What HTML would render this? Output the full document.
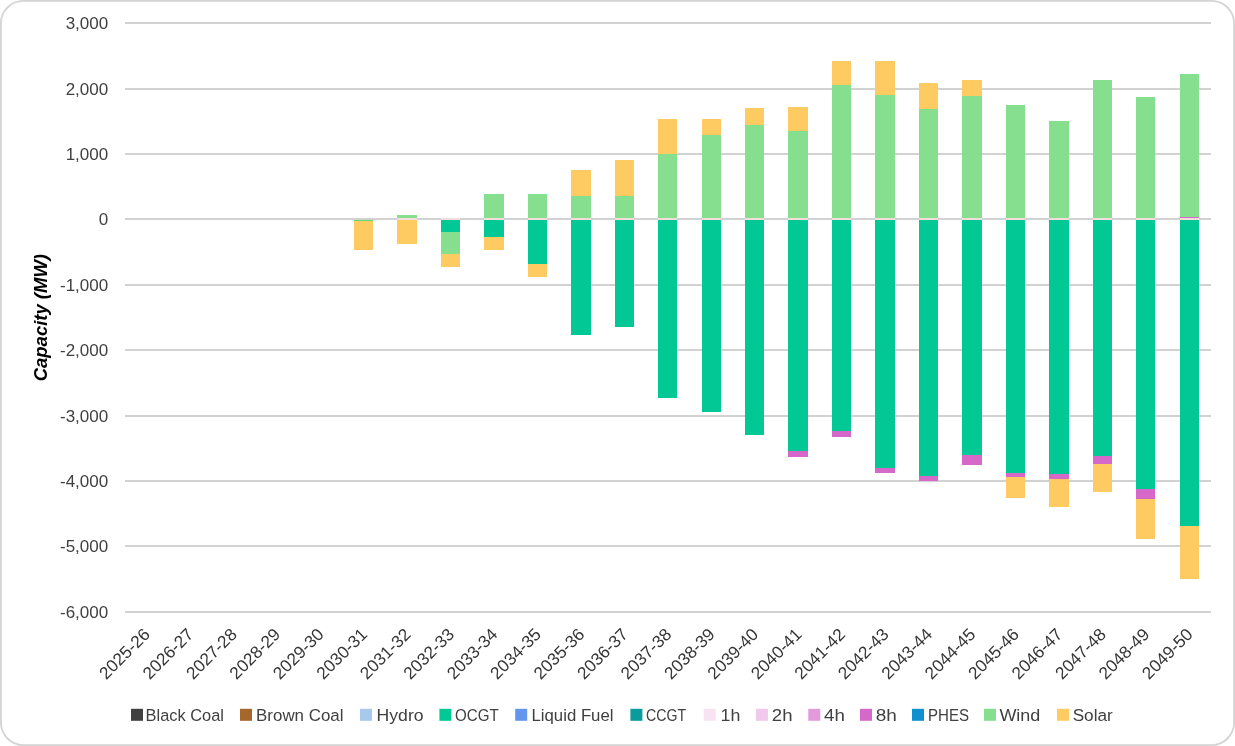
<!DOCTYPE html>
<html lang="en"><head><meta charset="utf-8"><title>Capacity (MW)</title>
<style>html,body{margin:0;padding:0;background:#fff;}svg{display:block;}text{font-family:"Liberation Sans",sans-serif;}</style></head><body>
<svg width="1235" height="746" viewBox="0 0 1235 746">
<rect x="0" y="0" width="1235" height="746" fill="#fff"/>
<rect x="0.9" y="0.9" width="1233.2" height="744.2" rx="22.5" ry="22.5" fill="#fff" stroke="#D4D4D4" stroke-width="1.8"/>
<g fill="#D2D2D2" shape-rendering="crispEdges">
<rect x="125.0" y="22" width="1086.3" height="2"/>
<rect x="125.0" y="88" width="1086.3" height="2"/>
<rect x="125.0" y="153" width="1086.3" height="2"/>
<rect x="125.0" y="218" width="1086.3" height="2"/>
<rect x="125.0" y="284" width="1086.3" height="2"/>
<rect x="125.0" y="349" width="1086.3" height="2"/>
<rect x="125.0" y="415" width="1086.3" height="2"/>
<rect x="125.0" y="480" width="1086.3" height="2"/>
<rect x="125.0" y="545" width="1086.3" height="2"/>
<rect x="125.0" y="611" width="1086.3" height="2"/>
</g>
<g shape-rendering="crispEdges">
<rect x="354.00" y="219.80" width="19" height="1.40" fill="#5FDC70"/>
<rect x="354.00" y="221.00" width="19" height="28.70" fill="#FDCB62"/>
<rect x="397.00" y="214.80" width="20" height="4.20" fill="#86DF8F"/>
<rect x="397.00" y="219.00" width="20" height="24.80" fill="#FDCB62"/>
<rect x="441.00" y="219.00" width="19" height="13.20" fill="#02C896"/>
<rect x="441.00" y="232.20" width="19" height="21.70" fill="#86DF8F"/>
<rect x="441.00" y="253.90" width="19" height="12.90" fill="#FDCB62"/>
<rect x="484.00" y="194.10" width="20" height="24.90" fill="#86DF8F"/>
<rect x="484.00" y="219.00" width="20" height="18.00" fill="#02C896"/>
<rect x="484.00" y="237.00" width="20" height="12.70" fill="#FDCB62"/>
<rect x="528.00" y="194.10" width="19" height="24.90" fill="#86DF8F"/>
<rect x="528.00" y="219.00" width="19" height="45.10" fill="#02C896"/>
<rect x="528.00" y="264.10" width="19" height="12.60" fill="#FDCB62"/>
<rect x="571.00" y="169.90" width="20" height="26.10" fill="#FDCB62"/>
<rect x="571.00" y="196.00" width="20" height="23.00" fill="#86DF8F"/>
<rect x="571.00" y="219.00" width="20" height="115.70" fill="#02C896"/>
<rect x="615.00" y="160.00" width="19" height="36.00" fill="#FDCB62"/>
<rect x="615.00" y="196.00" width="19" height="23.00" fill="#86DF8F"/>
<rect x="615.00" y="219.00" width="19" height="107.50" fill="#02C896"/>
<rect x="658.00" y="119.00" width="19" height="35.00" fill="#FDCB62"/>
<rect x="658.00" y="154.00" width="19" height="65.00" fill="#86DF8F"/>
<rect x="658.00" y="219.00" width="19" height="178.70" fill="#02C896"/>
<rect x="702.00" y="119.00" width="19" height="15.70" fill="#FDCB62"/>
<rect x="702.00" y="134.70" width="19" height="84.30" fill="#86DF8F"/>
<rect x="702.00" y="219.00" width="19" height="193.40" fill="#02C896"/>
<rect x="745.00" y="108.20" width="19" height="16.40" fill="#FDCB62"/>
<rect x="745.00" y="124.60" width="19" height="94.40" fill="#86DF8F"/>
<rect x="745.00" y="219.00" width="19" height="215.60" fill="#02C896"/>
<rect x="788.00" y="107.00" width="20" height="23.70" fill="#FDCB62"/>
<rect x="788.00" y="130.70" width="20" height="88.30" fill="#86DF8F"/>
<rect x="788.00" y="219.00" width="20" height="232.10" fill="#02C896"/>
<rect x="788.00" y="451.10" width="20" height="5.50" fill="#D568C9"/>
<rect x="832.00" y="60.90" width="19" height="24.20" fill="#FDCB62"/>
<rect x="832.00" y="85.10" width="19" height="133.90" fill="#86DF8F"/>
<rect x="832.00" y="219.00" width="19" height="212.20" fill="#02C896"/>
<rect x="832.00" y="431.20" width="19" height="5.50" fill="#D568C9"/>
<rect x="875.00" y="60.90" width="20" height="33.80" fill="#FDCB62"/>
<rect x="875.00" y="94.70" width="20" height="124.30" fill="#86DF8F"/>
<rect x="875.00" y="219.00" width="20" height="249.00" fill="#02C896"/>
<rect x="875.00" y="468.00" width="20" height="4.70" fill="#D568C9"/>
<rect x="919.00" y="83.00" width="19" height="25.80" fill="#FDCB62"/>
<rect x="919.00" y="108.80" width="19" height="110.20" fill="#86DF8F"/>
<rect x="919.00" y="219.00" width="19" height="257.20" fill="#02C896"/>
<rect x="919.00" y="476.20" width="19" height="4.50" fill="#D568C9"/>
<rect x="962.00" y="80.00" width="20" height="15.80" fill="#FDCB62"/>
<rect x="962.00" y="95.80" width="20" height="123.20" fill="#86DF8F"/>
<rect x="962.00" y="219.00" width="20" height="236.00" fill="#02C896"/>
<rect x="962.00" y="455.00" width="20" height="9.50" fill="#D568C9"/>
<rect x="1006.00" y="104.90" width="19" height="114.10" fill="#86DF8F"/>
<rect x="1006.00" y="219.00" width="19" height="253.90" fill="#02C896"/>
<rect x="1006.00" y="472.90" width="19" height="4.30" fill="#D568C9"/>
<rect x="1006.00" y="477.20" width="19" height="20.50" fill="#FDCB62"/>
<rect x="1049.00" y="121.00" width="20" height="98.00" fill="#86DF8F"/>
<rect x="1049.00" y="219.00" width="20" height="255.00" fill="#02C896"/>
<rect x="1049.00" y="474.00" width="20" height="4.80" fill="#D568C9"/>
<rect x="1049.00" y="478.80" width="20" height="28.00" fill="#FDCB62"/>
<rect x="1093.00" y="80.00" width="19" height="139.00" fill="#86DF8F"/>
<rect x="1093.00" y="219.00" width="19" height="237.00" fill="#02C896"/>
<rect x="1093.00" y="456.00" width="19" height="8.00" fill="#D568C9"/>
<rect x="1093.00" y="464.00" width="19" height="27.80" fill="#FDCB62"/>
<rect x="1136.00" y="97.00" width="19" height="122.00" fill="#86DF8F"/>
<rect x="1136.00" y="219.00" width="19" height="270.00" fill="#02C896"/>
<rect x="1136.00" y="489.00" width="19" height="9.90" fill="#D568C9"/>
<rect x="1136.00" y="498.90" width="19" height="39.90" fill="#FDCB62"/>
<rect x="1180.00" y="73.90" width="19" height="143.30" fill="#86DF8F"/>
<rect x="1180.00" y="217.00" width="19" height="1.20" fill="#D568C9"/>
<rect x="1180.00" y="219.00" width="19" height="307.00" fill="#02C896"/>
<rect x="1180.00" y="526.00" width="19" height="52.90" fill="#FDCB62"/>
</g>
<g fill="#F4DCDA">
<rect x="397.00" y="218" width="20" height="2"/>
<rect x="441.00" y="218" width="19" height="2"/>
<rect x="484.00" y="218" width="20" height="2"/>
<rect x="528.00" y="218" width="19" height="2"/>
<rect x="571.00" y="218" width="20" height="2"/>
<rect x="615.00" y="218" width="19" height="2"/>
<rect x="658.00" y="218" width="19" height="2"/>
<rect x="702.00" y="218" width="19" height="2"/>
<rect x="745.00" y="218" width="19" height="2"/>
<rect x="788.00" y="218" width="20" height="2"/>
<rect x="832.00" y="218" width="19" height="2"/>
<rect x="875.00" y="218" width="20" height="2"/>
<rect x="919.00" y="218" width="19" height="2"/>
<rect x="962.00" y="218" width="20" height="2"/>
<rect x="1006.00" y="218" width="19" height="2"/>
<rect x="1049.00" y="218" width="20" height="2"/>
<rect x="1093.00" y="218" width="19" height="2"/>
<rect x="1136.00" y="218" width="19" height="2"/>
<rect x="1180.00" y="218" width="19" height="2"/>
</g>
<g fill="#404040" font-size="17" text-anchor="end">
<text x="108.2" y="28.60">3,000</text>
<text x="108.2" y="94.60">2,000</text>
<text x="108.2" y="159.60">1,000</text>
<text x="108.2" y="224.60">0</text>
<text x="108.2" y="290.60">-1,000</text>
<text x="108.2" y="355.60">-2,000</text>
<text x="108.2" y="421.60">-3,000</text>
<text x="108.2" y="486.60">-4,000</text>
<text x="108.2" y="551.60">-5,000</text>
<text x="108.2" y="617.60">-6,000</text>
</g>
<g fill="#363636" font-size="17.2" text-anchor="end">
<text transform="translate(151.03,635.4) rotate(-45)" textLength="63.3" lengthAdjust="spacingAndGlyphs">2025-26</text>
<text transform="translate(194.48,635.4) rotate(-45)" textLength="63.3" lengthAdjust="spacingAndGlyphs">2026-27</text>
<text transform="translate(237.93,635.4) rotate(-45)" textLength="63.3" lengthAdjust="spacingAndGlyphs">2027-28</text>
<text transform="translate(281.38,635.4) rotate(-45)" textLength="63.3" lengthAdjust="spacingAndGlyphs">2028-29</text>
<text transform="translate(324.83,635.4) rotate(-45)" textLength="63.3" lengthAdjust="spacingAndGlyphs">2029-30</text>
<text transform="translate(368.29,635.4) rotate(-45)" textLength="63.3" lengthAdjust="spacingAndGlyphs">2030-31</text>
<text transform="translate(411.74,635.4) rotate(-45)" textLength="63.3" lengthAdjust="spacingAndGlyphs">2031-32</text>
<text transform="translate(455.19,635.4) rotate(-45)" textLength="63.3" lengthAdjust="spacingAndGlyphs">2032-33</text>
<text transform="translate(498.64,635.4) rotate(-45)" textLength="63.3" lengthAdjust="spacingAndGlyphs">2033-34</text>
<text transform="translate(542.09,635.4) rotate(-45)" textLength="63.3" lengthAdjust="spacingAndGlyphs">2034-35</text>
<text transform="translate(585.55,635.4) rotate(-45)" textLength="63.3" lengthAdjust="spacingAndGlyphs">2035-36</text>
<text transform="translate(629.00,635.4) rotate(-45)" textLength="63.3" lengthAdjust="spacingAndGlyphs">2036-37</text>
<text transform="translate(672.45,635.4) rotate(-45)" textLength="63.3" lengthAdjust="spacingAndGlyphs">2037-38</text>
<text transform="translate(715.90,635.4) rotate(-45)" textLength="63.3" lengthAdjust="spacingAndGlyphs">2038-39</text>
<text transform="translate(759.35,635.4) rotate(-45)" textLength="63.3" lengthAdjust="spacingAndGlyphs">2039-40</text>
<text transform="translate(802.81,635.4) rotate(-45)" textLength="63.3" lengthAdjust="spacingAndGlyphs">2040-41</text>
<text transform="translate(846.26,635.4) rotate(-45)" textLength="63.3" lengthAdjust="spacingAndGlyphs">2041-42</text>
<text transform="translate(889.71,635.4) rotate(-45)" textLength="63.3" lengthAdjust="spacingAndGlyphs">2042-43</text>
<text transform="translate(933.16,635.4) rotate(-45)" textLength="63.3" lengthAdjust="spacingAndGlyphs">2043-44</text>
<text transform="translate(976.61,635.4) rotate(-45)" textLength="63.3" lengthAdjust="spacingAndGlyphs">2044-45</text>
<text transform="translate(1020.07,635.4) rotate(-45)" textLength="63.3" lengthAdjust="spacingAndGlyphs">2045-46</text>
<text transform="translate(1063.52,635.4) rotate(-45)" textLength="63.3" lengthAdjust="spacingAndGlyphs">2046-47</text>
<text transform="translate(1106.97,635.4) rotate(-45)" textLength="63.3" lengthAdjust="spacingAndGlyphs">2047-48</text>
<text transform="translate(1150.42,635.4) rotate(-45)" textLength="63.3" lengthAdjust="spacingAndGlyphs">2048-49</text>
<text transform="translate(1193.87,635.4) rotate(-45)" textLength="63.3" lengthAdjust="spacingAndGlyphs">2049-50</text>
</g>
<text transform="translate(46.5,381.3) rotate(-90)" font-size="17.6" font-weight="bold" font-style="italic" fill="#000" textLength="127.3" lengthAdjust="spacingAndGlyphs">Capacity (MW)</text>
<g fill="#404040" font-size="17.2">
<rect x="131.0" y="708.8" width="12" height="12" fill="#404040"/>
<text x="145.6" y="720.7" textLength="78.4" lengthAdjust="spacingAndGlyphs">Black Coal</text>
<rect x="240.0" y="708.8" width="12" height="12" fill="#A5672B"/>
<text x="256.1" y="720.7" textLength="87.4" lengthAdjust="spacingAndGlyphs">Brown Coal</text>
<rect x="360.0" y="708.8" width="12" height="12" fill="#A6C9EC"/>
<text x="376.6" y="720.7" textLength="47.0" lengthAdjust="spacingAndGlyphs">Hydro</text>
<rect x="439.4" y="708.8" width="12" height="12" fill="#02C896"/>
<text x="455.1" y="720.7" textLength="43.7" lengthAdjust="spacingAndGlyphs">OCGT</text>
<rect x="515.2" y="708.8" width="12" height="12" fill="#6596EE"/>
<text x="531.5" y="720.7" textLength="82.0" lengthAdjust="spacingAndGlyphs">Liquid Fuel</text>
<rect x="630.4" y="708.8" width="12" height="12" fill="#0A9C9C"/>
<text x="646.1" y="720.7" textLength="40.1" lengthAdjust="spacingAndGlyphs">CCGT</text>
<rect x="703.7" y="708.8" width="12" height="12" fill="#F8E2F3"/>
<text x="720.5" y="720.7" textLength="19.8" lengthAdjust="spacingAndGlyphs">1h</text>
<rect x="755.9" y="708.8" width="12" height="12" fill="#F1C9EC"/>
<text x="771.8" y="720.7" textLength="20.7" lengthAdjust="spacingAndGlyphs">2h</text>
<rect x="808.3" y="708.8" width="12" height="12" fill="#E39ADB"/>
<text x="824.0" y="720.7" textLength="20.8" lengthAdjust="spacingAndGlyphs">4h</text>
<rect x="860.0" y="708.8" width="12" height="12" fill="#D568C9"/>
<text x="875.8" y="720.7" textLength="21.1" lengthAdjust="spacingAndGlyphs">8h</text>
<rect x="912.0" y="708.8" width="12" height="12" fill="#1090CE"/>
<text x="928.0" y="720.7" textLength="41.0" lengthAdjust="spacingAndGlyphs">PHES</text>
<rect x="984.0" y="708.8" width="12" height="12" fill="#86DF8F"/>
<text x="999.4" y="720.7" textLength="41.0" lengthAdjust="spacingAndGlyphs">Wind</text>
<rect x="1057.0" y="708.8" width="12" height="12" fill="#FDCB62"/>
<text x="1072.7" y="720.7" textLength="40.0" lengthAdjust="spacingAndGlyphs">Solar</text>
</g>
</svg></body></html>
